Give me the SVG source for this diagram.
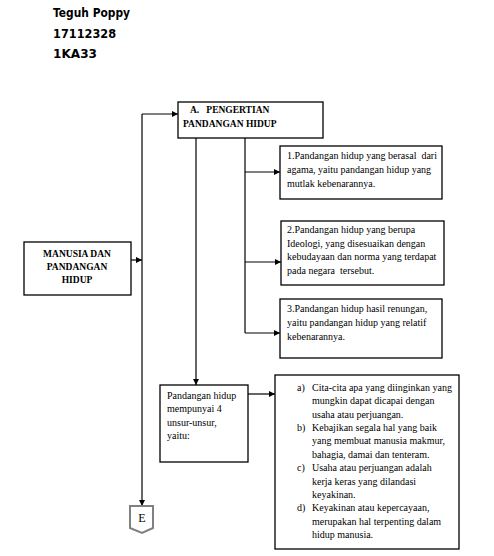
<svg xmlns="http://www.w3.org/2000/svg" width="494" height="556" viewBox="0 0 494 556">
<defs>
<marker id="ah" viewBox="0 0 8 8" refX="8" refY="4" markerWidth="6" markerHeight="6" markerUnits="userSpaceOnUse" orient="auto">
<path d="M0,0 L8,4 L0,8 z" fill="#000"/>
</marker>
</defs>
<style>
.box{fill:#fff;stroke:#000;stroke-width:1.3}
.t{font-family:"Liberation Serif","Times New Roman",serif;font-size:10px;fill:#000}
.b{font-family:"Liberation Serif","Times New Roman",serif;font-size:9.5px;font-weight:bold;fill:#000}
.h{font-family:"DejaVu Sans","Comic Sans MS",sans-serif;font-size:12px;font-weight:bold;fill:#000}
.c{fill:none;stroke:#000;stroke-width:1.2}
</style>
<rect width="494" height="556" fill="#fff"/>
<g id="header">
<text class="h" x="53" y="17" textLength="77" lengthAdjust="spacingAndGlyphs">Teguh Poppy</text>
<text class="h" x="53" y="38" textLength="63" lengthAdjust="spacingAndGlyphs">17112328</text>
<text class="h" x="53" y="58" textLength="44" lengthAdjust="spacingAndGlyphs">1KA33</text>
</g>
<g id="connectors">
<path class="c" d="M142,114 L142,506" marker-end="url(#ah)"/>
<path class="c" d="M142,114 L178,114" marker-end="url(#ah)"/>
<path class="c" d="M131,260 L142,260" marker-end="url(#ah)"/>
<path class="c" d="M196,138 L196,385" marker-end="url(#ah)"/>
<path class="c" d="M245,138 L245,333"/>
<path class="c" d="M245,172 L280,172" marker-end="url(#ah)"/>
<path class="c" d="M245,262 L281,262" marker-end="url(#ah)"/>
<path class="c" d="M245,333 L280,333" marker-end="url(#ah)"/>
<path class="c" d="M248,394 L275,394" marker-end="url(#ah)"/>
</g>
<g id="nodeA">
<rect class="box" x="178" y="102" width="145" height="36"/>
<text class="b" x="190" y="113" xml:space="preserve">A.   PENGERTIAN</text>
<text class="b" x="183" y="127">PANDANGAN HIDUP</text>
</g>
<g id="node1">
<rect class="box" x="280" y="146" width="162" height="53"/>
<text class="t" x="287" y="159" xml:space="preserve">1.Pandangan hidup yang berasal  dari</text>
<text class="t" x="287" y="173">agama, yaitu pandangan hidup yang</text>
<text class="t" x="287" y="187">mutlak kebenarannya.</text>
</g>
<g id="node2">
<rect class="box" x="281" y="221" width="163" height="64"/>
<text class="t" x="287" y="233">2.Pandangan hidup yang berupa</text>
<text class="t" x="287" y="247">Ideologi, yang disesuaikan dengan</text>
<text class="t" x="287" y="260">kebudayaan dan norma yang terdapat</text>
<text class="t" x="287" y="274" xml:space="preserve">pada negara  tersebut.</text>
</g>
<g id="node3">
<rect class="box" x="280" y="299" width="162" height="59"/>
<text class="t" x="287" y="312">3.Pandangan hidup hasil renungan,</text>
<text class="t" x="287" y="326">yaitu pandangan hidup yang relatif</text>
<text class="t" x="287" y="340">kebenarannya.</text>
</g>
<g id="manusia">
<rect class="box" x="24" y="242" width="107" height="53"/>
<text class="b" x="77" y="257" text-anchor="middle">MANUSIA DAN</text>
<text class="b" x="77" y="270" text-anchor="middle">PANDANGAN</text>
<text class="b" x="77" y="283" text-anchor="middle">HIDUP</text>
</g>
<g id="unsur">
<rect class="box" x="160" y="385" width="88" height="77"/>
<text class="t" x="167" y="399">Pandangan hidup</text>
<text class="t" x="167" y="412">mempunyai 4</text>
<text class="t" x="167" y="426">unsur-unsur,</text>
<text class="t" x="167" y="439">yaitu:</text>
</g>
<g id="list">
<rect class="box" x="275" y="375" width="184" height="174"/>
<text class="t" x="297" y="391">a)</text>
<text class="t" x="312" y="391">Cita-cita apa yang diinginkan yang</text>
<text class="t" x="312" y="404">mungkin dapat dicapai  dengan</text>
<text class="t" x="312" y="418">usaha atau perjuangan.</text>
<text class="t" x="297" y="431">b)</text>
<text class="t" x="312" y="431">Kebajikan segala hal yang baik</text>
<text class="t" x="312" y="444">yang membuat manusia makmur,</text>
<text class="t" x="312" y="458">bahagia, damai dan tenteram.</text>
<text class="t" x="297" y="471">c)</text>
<text class="t" x="312" y="471">Usaha atau perjuangan adalah</text>
<text class="t" x="312" y="485">kerja keras yang dilandasi</text>
<text class="t" x="312" y="498">keyakinan.</text>
<text class="t" x="297" y="511">d)</text>
<text class="t" x="312" y="511">Keyakinan atau kepercayaan,</text>
<text class="t" x="312" y="525">merupakan hal terpenting dalam</text>
<text class="t" x="312" y="538">hidup manusia.</text>
</g>
<g id="nodeE">
<polygon points="130,506 153,506 153,528 142,533 130,528" fill="#fff" stroke="#808080" stroke-width="2"/>
<text x="142" y="522" text-anchor="middle" font-family="Liberation Serif, serif" font-size="12">E</text>
</g>
</svg>
